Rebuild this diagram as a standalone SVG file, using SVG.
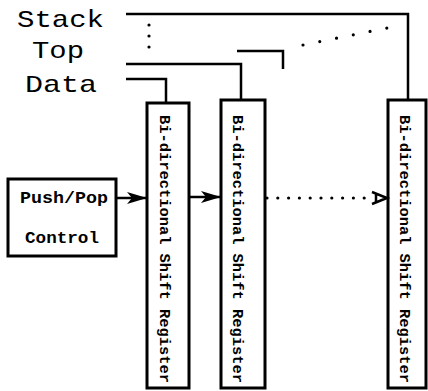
<svg xmlns="http://www.w3.org/2000/svg" width="428" height="391" viewBox="0 0 428 391">
  <defs>
    <style>
      .lbl { font-family: "Liberation Mono", "Courier New", monospace; fill: #000; }
      .big { font-size: 24px; }
      .ctl { font-size: 16px; font-weight: bold; }
      .reg { font-size: 15px; font-weight: bold; }
      .box { fill: #fff; stroke: #000; stroke-width: 3; }
      .wire { fill: none; stroke: #000; stroke-width: 2.5; }
      .dots { fill: none; stroke: #000; stroke-width: 3.2; stroke-linecap: round; }
    </style>
    <marker id="solid" viewBox="0 0 20 12" refX="20" refY="6" markerWidth="20" markerHeight="12" markerUnits="userSpaceOnUse" orient="auto">
      <path d="M0,0 L20,6 L0,12 L5,6 Z" fill="#000"/>
    </marker>
  </defs>

  <!-- bus labels -->
  <g id="labels">
    <text class="lbl big" x="17" y="27" textLength="87" lengthAdjust="spacingAndGlyphs">Stack</text>
    <text class="lbl big" x="32" y="58" textLength="52" lengthAdjust="spacingAndGlyphs">Top</text>
    <text class="lbl big" x="25" y="92" textLength="72" lengthAdjust="spacingAndGlyphs">Data</text>
  </g>

  <!-- control block -->
  <g id="control">
    <rect class="box" x="8" y="179" width="108" height="77"/>
    <text class="lbl ctl" x="20" y="203" textLength="88" lengthAdjust="spacingAndGlyphs">Push/Pop</text>
    <text class="lbl ctl" x="25" y="243" textLength="74" lengthAdjust="spacingAndGlyphs">Control</text>
  </g>

  <!-- shift register stages -->
  <g id="reg1">
    <rect class="box" x="147" y="103" width="42" height="285"/>
    <text class="lbl reg" transform="translate(160,115) rotate(90)" textLength="268" lengthAdjust="spacingAndGlyphs">Bi-directional Shift Register</text>
  </g>
  <g id="reg2">
    <rect class="box" x="221" y="100" width="44" height="288"/>
    <text class="lbl reg" transform="translate(233,115) rotate(90)" textLength="268" lengthAdjust="spacingAndGlyphs">Bi-directional Shift Register</text>
  </g>
  <g id="reg3">
    <rect class="box" x="388" y="100" width="38" height="288"/>
    <text class="lbl reg" transform="translate(400,115) rotate(90)" textLength="268" lengthAdjust="spacingAndGlyphs">Bi-directional Shift Register</text>
  </g>

  <!-- wiring -->
  <g id="connectors">
    <polyline class="wire" points="126,14 408,14 408,100"/>
    <polyline class="wire" points="126,64 241,64 241,100"/>
    <polyline class="wire" points="126,79 166,79 166,103"/>
    <polyline class="wire" points="237,51 283,51 283,69"/>
    <line class="dots" x1="149" y1="25" x2="149" y2="58" stroke-dasharray="0 11"/>
    <line class="dots" x1="303" y1="45" x2="387" y2="28" stroke-dasharray="0 17.1"/>
    <line class="wire" x1="116" y1="198" x2="147" y2="198" marker-end="url(#solid)"/>
    <line class="wire" x1="189" y1="197" x2="221" y2="197" marker-end="url(#solid)"/>
    <line class="dots" x1="267" y1="198" x2="365" y2="198" stroke-dasharray="0 10.8"/>
    <path class="wire" d="M372,192 L387,198 L372,204 M376,193.5 L376,202.5" stroke-width="3"/>
  </g>
</svg>
